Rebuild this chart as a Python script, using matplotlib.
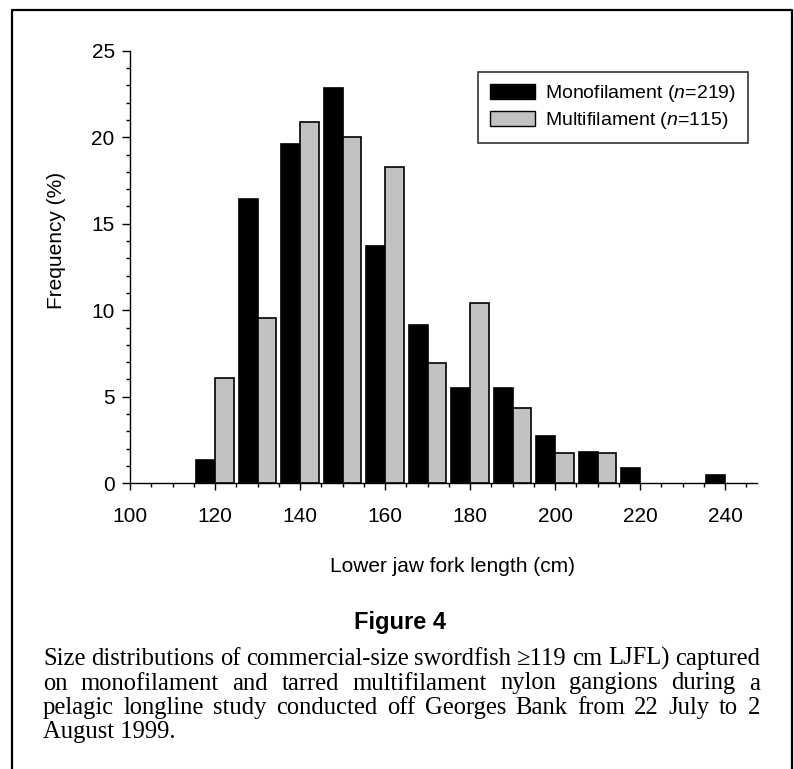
"""
Figure 4 - size distributions of swordfish by gangion type (grouped bars).
"""

import matplotlib
matplotlib.use("Agg")
import matplotlib.pyplot as plt
from matplotlib.lines import Line2D
from matplotlib.patches import Patch
from matplotlib.ticker import MultipleLocator
import numpy as np

W, H = 794, 769          # output size in pixels (dpi 100)

# ── Data (percent of fish per 10-cm LJFL bin) ────────────────────────────────
bin_centres = [120, 130, 140, 150, 160, 170, 180, 190, 200, 210, 220, 230, 240]
mono_pct    = [1.37, 16.44, 19.63, 22.83, 13.70, 9.13, 5.48, 5.48, 2.74, 1.83, 0.91, 0.0, 0.46]
multi_pct   = [6.09, 9.57, 20.87, 20.00, 18.26, 6.96, 10.43, 4.35, 1.74, 1.74, 0.0, 0.0, 0.0]
legend_labels = ["Monofilament ($n$=219)", "Multifilament ($n$=115)"]

caption_title = "Figure 4"
caption_lines = [
    "Size distributions of commercial-size swordfish \u2265119 cm LJFL) captured",
    "on monofilament and tarred multifilament nylon gangions during a",
    "pelagic longline study conducted off Georges Bank from 22 July to 2",
    "August 1999.",
]

_SANS  = "Liberation Sans"
_SERIF = "Liberation Serif"
_GREY  = "#c2c2c2"

plt.rcParams["font.family"] = [_SANS, "DejaVu Sans"]
plt.rcParams["mathtext.fontset"] = "custom"
plt.rcParams["mathtext.rm"] = _SANS
plt.rcParams["mathtext.it"] = _SANS + ":italic"


def px(x, y):
    """pixel (from top-left) -> figure fraction"""
    return x / W, 1 - y / H


fig = plt.figure(figsize=(W / 100, H / 100), dpi=100)
fig.set_facecolor("white")

# axes box: x 130..757 px, y 50.7..483.3 px
ax = fig.add_axes([130 / W, 1 - 483.3 / H, 627 / W, 432.6 / H])

x = np.array(bin_centres, dtype=float)
mono = np.array(mono_pct)
multi = np.array(multi_pct)
bw = 4.4
m1 = mono > 0
m2 = multi > 0
ax.bar(x[m1] - bw / 2, mono[m1], bw, color="black", edgecolor="black", linewidth=1.2, zorder=3)
ax.bar(x[m2] + bw / 2, multi[m2], bw, color=_GREY, edgecolor="black", linewidth=1.2, zorder=3)

ax.set_xlim(100, 247.5)
ax.set_ylim(0, 25)
ax.xaxis.set_major_locator(MultipleLocator(20))
ax.xaxis.set_minor_locator(MultipleLocator(5))
ax.yaxis.set_major_locator(MultipleLocator(5))
ax.yaxis.set_minor_locator(MultipleLocator(1))

for side in ("top", "right"):
    ax.spines[side].set_visible(False)
for side in ("left", "bottom"):
    ax.spines[side].set_linewidth(1.0)

ax.tick_params(axis="x", which="major", direction="out", length=5, width=1, pad=12, labelsize=15)
ax.tick_params(axis="x", which="minor", direction="out", length=3, width=1)
ax.tick_params(axis="y", which="major", direction="out", length=6, width=1, pad=5, labelsize=15)
ax.tick_params(axis="y", which="minor", direction="out", length=3, width=1)

fig.text(*px(57, 240), "Frequency (%)", rotation=90, ha="center", va="center", fontsize=15)
fig.text(*px(453, 567), "Lower jaw fork length (cm)", ha="center", va="center", fontsize=15)

handles = [Patch(facecolor="black", edgecolor="black", linewidth=1.0),
           Patch(facecolor=_GREY, edgecolor="black", linewidth=1.0)]
leg = ax.legend(handles, legend_labels, loc="upper right",
                bbox_to_anchor=((748 - 130) / 627, (483.3 - 71.7) / 432.6),
                borderaxespad=0, fontsize=14, frameon=True, fancybox=False,
                handlelength=2.3, handleheight=0.75, handletextpad=0.55,
                labelspacing=0.3, borderpad=0.6)
leg.get_frame().set_edgecolor("black")
leg.get_frame().set_linewidth(1.2)

# ── page frame (left, top, right) ────────────────────────────────────────────
fx = [12 / W, 12 / W, 792 / W, 792 / W]
fy = [0, 1 - 10 / H, 1 - 10 / H, 0]
fig.add_artist(Line2D(fx, fy, color="black", linewidth=1.6, transform=fig.transFigure))

# ── caption ──────────────────────────────────────────────────────────────────
fig.text(*px(400, 623), caption_title, ha="center", va="center",
         fontsize=17, fontweight="bold", family=_SANS)

renderer = fig.canvas.get_renderer()
x0, x1 = 43, 760
baselines = [665, 689.5, 714, 738]

probe = fig.text(0, 0, caption_lines[0], fontsize=13, family=_SERIF)
size = 13 * (x1 - x0) / probe.get_window_extent(renderer).width
probe.remove()

for i, (line, yb) in enumerate(zip(caption_lines, baselines)):
    if i == len(caption_lines) - 1:
        fig.text(*px(x0, yb), line, fontsize=size, family=_SERIF, va="baseline")
        continue
    words = line.split()
    texts = [fig.text(*px(x0, yb), w, fontsize=size, family=_SERIF, va="baseline") for w in words]
    widths = [t.get_window_extent(renderer).width for t in texts]
    gap = (x1 - x0 - sum(widths)) / (len(words) - 1)
    xc = x0
    for t, w in zip(texts, widths):
        t.set_x(xc / W)
        xc += w + gap

fig.savefig("out.png", dpi=100, facecolor="white")
